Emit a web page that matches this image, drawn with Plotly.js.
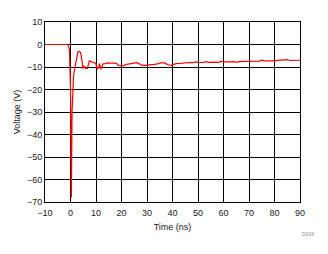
<!DOCTYPE html>
<html><head><meta charset="utf-8">
<script src="https://cdn.plot.ly/plotly-3.0.1.min.js"></script>
<style>html,body{margin:0;padding:0;background:#fff}#chart{width:328px;height:254px}</style>
</head><body><div id="chart"></div>
<script>
const timeNs = [-10, -1.1, -0.9, -0.7, -0.4, 0.0, 0.2, 0.35, 0.6, 0.8, 1.2, 1.9, 2.5, 2.9, 3.4, 3.8, 4.1, 4.5, 4.9, 5.4, 6.0, 6.6, 7.0, 7.4, 8.0, 8.6, 9.2, 9.8, 10.2, 10.6, 11.0, 11.4, 11.9, 12.3, 12.8, 13.5, 14.5, 15.5, 16.5, 17.4, 18.0, 18.7, 19.6, 20.7, 22.0, 23.0, 24.0, 25.0, 26.0, 27.0, 27.8, 29.0, 31.0, 32.0, 33.0, 34.5, 35.6, 36.9, 38.2, 39.5, 41.4, 43, 44.5, 46.6, 48, 49, 50, 52, 53, 54.4, 56, 58, 59, 60, 62.2, 64, 65, 66, 68, 70, 72.6, 74, 75, 76, 79, 81, 82.5, 84.2, 85, 86, 88, 89, 90];
const voltage = [0, 0, -0.4, -2.0, -2.2, -20, -68, -68, -30, -22, -14, -9.3, -5, -3.3, -3.1, -3.3, -4.2, -7.5, -10.7, -9.6, -10.7, -10.6, -9.2, -7.3, -7.6, -7.8, -8.2, -8.3, -9.5, -11, -10, -8.5, -11, -9.8, -8.6, -8.5, -8.2, -8.3, -8.2, -8.3, -8.4, -9.2, -9.4, -9.5, -8.8, -8.6, -8.5, -8.4, -8.1, -8.6, -9.2, -9.3, -9.2, -9.0, -8.8, -8.5, -8.2, -8.2, -9.0, -9.3, -8.5, -8.4, -8.2, -8.0, -8.1, -7.7, -7.9, -8.0, -7.6, -7.9, -7.8, -7.9, -7.5, -7.7, -7.7, -7.6, -7.9, -7.6, -7.5, -7.5, -7.3, -7.4, -7.0, -7.3, -7.3, -7.2, -7.1, -7.0, -6.7, -7.1, -7.0, -7.2, -7.0];
const xTicks = [-10, 0, 10, 20, 30, 40, 50, 60, 70, 80, 90];
const yTicks = [10, 0, -10, -20, -30, -40, -50, -60, -70];

const axisCommon = {
  showgrid: true, gridcolor: '#000', gridwidth: 1,
  showline: true, linecolor: '#000', linewidth: 1, mirror: true,
  zeroline: false, ticks: '', tickfont: {family: 'Arial, Liberation Sans', size: 9, color: '#1a1a1a'}
};
Plotly.newPlot('chart', [{
  x: timeNs, y: voltage, type: 'scatter', mode: 'lines',
  line: {color: '#ff0000', width: 1.2}
}], {
  width: 328, height: 254,
  margin: {l: 45, r: 28, t: 22, b: 52},
  paper_bgcolor: '#fff', plot_bgcolor: '#fff',
  showlegend: false,
  xaxis: Object.assign({}, axisCommon, {range: [-10, 90], tickvals: xTicks, ticklabelstandoff: 2,
    title: {text: 'Time (ns)', font: {family: 'Arial, Liberation Sans', size: 9, color: '#1a1a1a'}, standoff: 6}}),
  yaxis: Object.assign({}, axisCommon, {range: [-70, 10], tickvals: yTicks,
    title: {text: 'Voltage (V)', font: {family: 'Arial, Liberation Sans', size: 9, color: '#1a1a1a'}, standoff: 4}}),
  annotations: [{text: 'D004', x: 1.0, y: -0.15, xref: 'paper', yref: 'paper', xanchor: 'left', yanchor: 'top',
    showarrow: false, font: {family: 'Arial, Liberation Sans', size: 5, color: '#888'}}]
}, {displayModeBar: false, staticPlot: true});
</script></body></html>
